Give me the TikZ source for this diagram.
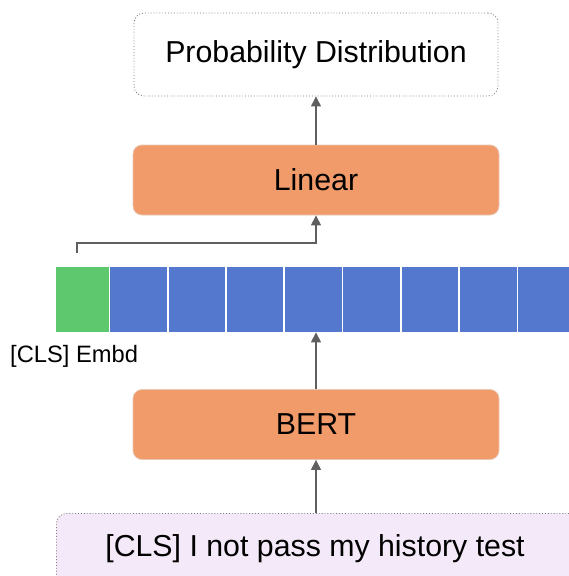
\documentclass[tikz,border=0pt]{standalone}
\usepackage{fontspec}
\setmainfont{Liberation Sans}
\usetikzlibrary{arrows.meta,positioning}
\definecolor{boxorange}{RGB}{240,155,105}
\definecolor{boxedge}{RGB}{232,200,180}
\definecolor{cellblue}{RGB}{85,120,207}
\definecolor{cellgreen}{RGB}{94,200,111}
\definecolor{inputfill}{RGB}{244,233,248}
\definecolor{linegray}{RGB}{95,95,95}
\definecolor{dotgray}{RGB}{125,125,125}
\tikzset{
  x=1pt, y=-1pt,
  bigtext/.style={font=\fontsize{30.3}{36}\selectfont},
  layerbox/.style={rectangle, rounded corners=9pt, fill=boxorange, draw=boxedge,
    line width=0.8pt, minimum width=366pt, minimum height=70pt, bigtext, inner sep=0pt},
  dottedbox/.style={rectangle, rounded corners=10pt, draw=dotgray, dotted,
    line width=0.9pt, inner sep=0pt, bigtext},
  cell/.style={rectangle, fill=cellblue, minimum width=56.5pt, minimum height=65pt,
    inner sep=0pt, anchor=north west},
  conn/.style={draw=linegray, line width=1.2pt,
    -{Triangle[width=10pt,length=10pt]}},
}
\begin{document}
\begin{tikzpicture}
\useasboundingbox (0,0) rectangle (569,576);

% output distribution
\node[dottedbox, fill=white, minimum width=364pt, minimum height=83pt]
  (prob) at (316,54.5) {Probability Distribution};

% linear layer and BERT encoder
\node[layerbox] (lin) at (316,180) {Linear};
\node[layerbox] (bert) at (316,424.5) {BERT};

% token embeddings: [CLS] in green, the rest in blue
\node[cell, fill=cellgreen, minimum width=52.5pt] (e0) at (56,267) {};
\foreach \i in {1,...,8} {
  \node[cell] (e\i) at ({110+(\i-1)*58.3},267) {};
}
\node[font=\fontsize{23.7}{28}\selectfont, anchor=west, inner sep=0pt]
  (clslabel) at (10,356) {[CLS] Embd};

% input sentence
\node[dottedbox, fill=inputfill, anchor=north west, minimum width=540pt,
  minimum height=80pt] (inp) at (56,513) {};
\node[bigtext, inner sep=0pt] (inptext) at (315,549)
  {[CLS] I not pass my history test};

% connectors
\coordinate (clsout) at (77,253);
\draw[conn] (inp.north -| bert.south) -- (bert.south);
\draw[conn] (bert.north) -- (bert.north |- e4.south);
\draw[conn] (clsout) -- ++(0,-10) -| (lin.south);
\draw[conn] (lin.north) -- (prob.south);
\end{tikzpicture}
\end{document}
